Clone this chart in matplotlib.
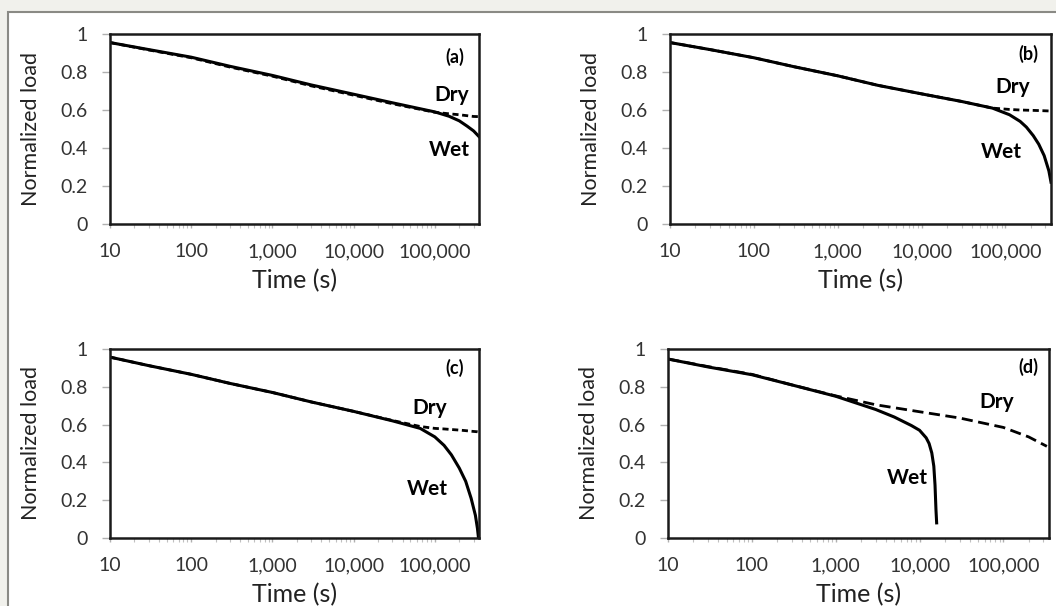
import matplotlib.pyplot as plt
from matplotlib.patches import Rectangle
from matplotlib.ticker import FixedLocator, LogLocator, NullFormatter

plt.rcParams['font.family'] = ['Lato', 'DejaVu Sans']

# panel (a)
t_a = [10, 30, 100, 300, 1000, 3000, 10000, 30000, 100000, 150000, 200000, 250000, 300000, 350000]
wet_a = [0.955, 0.918, 0.878, 0.83, 0.782, 0.732, 0.683, 0.638, 0.59, 0.567, 0.543, 0.515, 0.49, 0.46]
dry_a = [0.955, 0.916, 0.875, 0.826, 0.778, 0.727, 0.678, 0.633, 0.588, 0.58, 0.575, 0.57, 0.566, 0.565]

# panel (b)
t_b = [10, 30, 100, 300, 1000, 3000, 10000, 30000, 70000, 112000, 150000, 178000,
       215000, 250000, 290000, 330000, 350000]
wet_b = [0.955, 0.918, 0.875, 0.828, 0.78, 0.73, 0.685, 0.645, 0.61, 0.575, 0.54, 0.51,
         0.465, 0.42, 0.36, 0.28, 0.22]
dry_b = [0.955, 0.918, 0.875, 0.828, 0.78, 0.73, 0.685, 0.645, 0.61, 0.603, 0.6, 0.599,
         0.598, 0.597, 0.596, 0.595, 0.595]

# panel (c)
t_c = [10, 30, 100, 300, 1000, 3000, 10000, 30000, 66000, 100000, 130000, 160000,
       200000, 240000, 280000, 316000, 335000, 345000]
wet_c = [0.957, 0.912, 0.866, 0.818, 0.77, 0.72, 0.67, 0.62, 0.58, 0.535, 0.49, 0.44,
         0.37, 0.3, 0.21, 0.12, 0.05, 0.0]
dry_c = [0.957, 0.912, 0.866, 0.818, 0.77, 0.72, 0.67, 0.622, 0.59, 0.58, 0.577, 0.574,
         0.571, 0.568, 0.565, 0.563, 0.562, 0.561]

# panel (d)
t_wet_d = [10, 30, 100, 300, 1000, 3000, 5000, 8000, 10000, 12000, 13000, 14000, 14800,
           15300, 15700, 16000]
wet_d = [0.947, 0.905, 0.864, 0.81, 0.75, 0.68, 0.64, 0.595, 0.57, 0.53, 0.5, 0.45, 0.38,
         0.28, 0.15, 0.08]
t_dry_d = [10, 30, 100, 300, 1000, 3000, 10000, 30000, 100000, 200000, 330000]
dry_d = [0.947, 0.907, 0.866, 0.81, 0.752, 0.705, 0.668, 0.635, 0.585, 0.535, 0.485]

x_ticks = [10, 100, 1000, 10000, 100000]
x_labels = ['10', '100', '1,000', '10,000', '100,000']
y_ticks = [0, 0.2, 0.4, 0.6, 0.8, 1.0]
y_labels = ['0', '0.2', '0.4', '0.6', '0.8', '1']

fig = plt.figure(figsize=(10.56, 6.06), dpi=100)
fig.patch.set_facecolor('#f1f1ec')
fig.patches.append(Rectangle((8 / 1056, -0.1), 1.1, 1.1 - 12 / 606, transform=fig.transFigure,
                             facecolor='white', edgecolor='#8a8a85', linewidth=1.5, zorder=-10))

panels = [
    # pos, wet times, wet, dry times, dry, tag, tag pos, dry pos, wet pos, dash
    ([110 / 1056, 382 / 606, 369 / 1056, 190 / 606], t_a, wet_a, t_a, dry_a, '(a)',
     (0.935, 0.88), (0.925, 0.68), (0.92, 0.39), (2.2, 1.3)),
    ([670 / 1056, 382 / 606, 381 / 1056, 190 / 606], t_b, wet_b, t_b, dry_b, '(b)',
     (0.94, 0.895), (0.90, 0.72), (0.87, 0.38), (2.2, 1.3)),
    ([110 / 1056, 68 / 606, 369 / 1056, 189 / 606], t_c, wet_c, t_c, dry_c, '(c)',
     (0.935, 0.90), (0.867, 0.69), (0.86, 0.26), (2.2, 1.3)),
    ([668 / 1056, 68 / 606, 381 / 1056, 189 / 606], t_wet_d, wet_d, t_dry_d, dry_d, '(d)',
     (0.945, 0.905), (0.864, 0.72), (0.627, 0.32), (4, 2)),
]

for pos, tw, w, td, d, tag, tagpos, drypos, wetpos, dash in panels:
    ax = fig.add_axes(pos)
    ax.plot(td, d, color='black', lw=2, linestyle=(0, dash))
    ax.plot(tw, w, color='black', lw=2.2)
    ax.set_xscale('log')
    ax.set_xlim(10, 350000)
    ax.set_ylim(0, 1)
    ax.xaxis.set_major_locator(FixedLocator(x_ticks))
    ax.set_xticklabels(x_labels)
    ax.xaxis.set_minor_locator(LogLocator(base=10, subs=range(2, 10)))
    ax.xaxis.set_minor_formatter(NullFormatter())
    ax.set_yticks(y_ticks)
    ax.set_yticklabels(y_labels)
    for s in ax.spines.values():
        s.set_linewidth(1.8)
        s.set_color('#1a1a1a')
    ax.tick_params(axis='y', which='major', length=6, width=1, color='#b0b0b0',
                   labelsize=14, labelcolor='#333333', pad=10)
    ax.tick_params(axis='x', which='major', length=3, width=1, color='#b0b0b0',
                   labelsize=14, labelcolor='#333333', pad=11)
    ax.tick_params(axis='x', which='minor', length=3, width=0.8, color='#c0c0c0')
    ax.set_xlabel('Time (s)', fontsize=18, color='#222222', labelpad=6)
    ax.set_ylabel('Normalized load', fontsize=15.5, color='#222222', labelpad=14)
    ax.text(*tagpos, tag, transform=ax.transAxes, ha='center', va='center',
            fontsize=13, fontweight='bold')
    ax.text(*drypos, 'Dry', transform=ax.transAxes, ha='center', va='center',
            fontsize=15, fontweight='bold')
    ax.text(*wetpos, 'Wet', transform=ax.transAxes, ha='center', va='center',
            fontsize=15, fontweight='bold')

plt.savefig('out.png', dpi=100, facecolor=fig.get_facecolor())
